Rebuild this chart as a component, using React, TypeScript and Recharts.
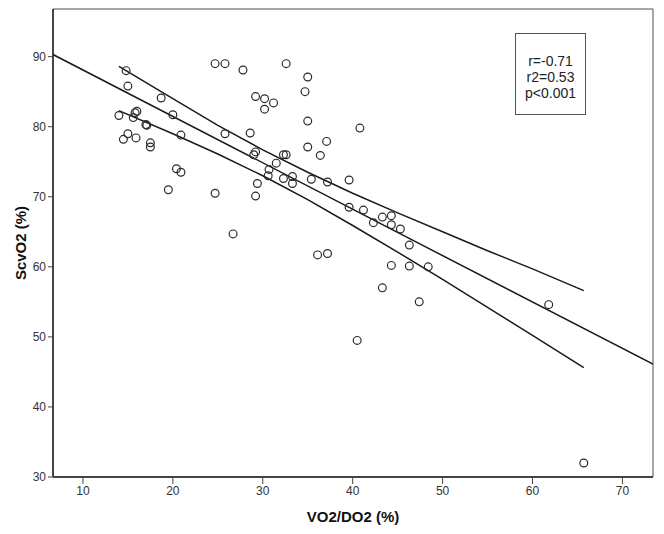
import { ScatterChart, Scatter, XAxis, YAxis, ReferenceLine, Label } from 'recharts'

// VO2/DO2 (%) vs ScvO2 (%) per patient
const vo2do2 = [
  14.8, 15.0, 18.7, 14.0, 15.6, 15.8, 16.0, 17.0, 17.1, 20.0,
  15.0, 14.5, 15.9, 17.5, 17.5, 20.9, 20.4, 20.9, 19.5, 24.7,
  26.7, 24.7, 25.8, 27.8, 32.6, 35.0, 34.7, 29.2, 30.2, 31.2,
  30.2, 35.0, 25.8, 28.6, 35.0, 37.1, 36.4, 29.0, 29.2, 32.3,
  32.6, 31.5, 30.7, 30.6, 32.3, 33.3, 33.3, 29.4, 29.2, 35.4,
  37.2, 36.1, 37.2, 40.8, 39.6, 39.6, 41.2, 42.3, 43.3, 44.3,
  44.3, 45.3, 46.3, 44.3, 46.3, 48.4, 43.3, 47.4, 40.5, 61.8,
  65.7,
]
const scvo2 = [
  88.0, 85.8, 84.1, 81.6, 81.3, 82.0, 82.2, 80.3, 80.2, 81.7,
  79.0, 78.2, 78.4, 77.7, 77.1, 78.8, 74.0, 73.5, 71.0, 70.5,
  64.7, 89.0, 89.0, 88.1, 89.0, 87.1, 85.0, 84.3, 84.0, 83.4,
  82.5, 80.8, 79.0, 79.1, 77.1, 77.9, 75.9, 76.0, 76.4, 76.0,
  76.0, 74.8, 73.9, 73.0, 72.6, 72.9, 71.9, 71.9, 70.1, 72.5,
  72.1, 61.7, 61.9, 79.8, 72.4, 68.5, 68.1, 66.3, 67.1, 67.3,
  66.0, 65.4, 63.1, 60.2, 60.1, 60.0, 57.0, 55.0, 49.5, 54.6,
  32.0,
]

// regression line end points
const fitX = [6.67, 73.4]
const fitY = [90.3, 46.1]

// 95% CI of the mean, read at a few x positions
const ciX = [14, 20, 25, 30, 35, 40, 45, 50, 55, 60, 65.7]
const ciUpper = [88.6, 84.0, 80.2, 76.7, 73.5, 70.5, 67.7, 65.0, 62.3, 59.7, 56.6]
const ciLower = [82.3, 79.0, 76.1, 73.0, 69.6, 65.9, 62.1, 58.2, 54.2, 50.2, 45.6]

const xTicks = [10, 20, 30, 40, 50, 60, 70]
const yTicks = [30, 40, 50, 60, 70, 80, 90]
const xDomain = [6.67, 73.4]
const yDomain = [30, 96.8]

const stats = ['r=-0.71', 'r2=0.53', 'p<0.001']

const points = vo2do2.map((x, i) => ({ x, y: scvo2[i] }))
const fit = fitX.map((x, i) => ({ x, y: fitY[i] }))
const upper = ciX.map((x, i) => ({ x, y: ciUpper[i] }))
const lower = ciX.map((x, i) => ({ x, y: ciLower[i] }))

const font = '"Liberation Sans", Arial, sans-serif'
const lineStyle = { stroke: '#1a1a1a', strokeWidth: 1.5 }

const Ring = (props: any) => (
  <circle cx={props.cx} cy={props.cy} r={3.9} fill="none" stroke="#2a2a2a" strokeWidth={1.2} />
)
const NoDot = () => <g />

const YLabel = ({ viewBox }: any) => {
  const cx = viewBox.x + 20
  const cy = viewBox.y + viewBox.height / 2
  return (
    <text x={cx} y={cy} transform={`rotate(-90 ${cx} ${cy})`} textAnchor="middle" dominantBaseline="central"
      style={{ fontFamily: font, fontWeight: 'bold', fontSize: 15, fill: '#111' }}>
      ScvO2 (%)
    </text>
  )
}

export default function App() {
  const tick = { fontFamily: font, fontSize: 12, fill: '#333' }
  return (
    <div style={{ position: 'absolute', left: 0, top: 0, width: 664, height: 534, background: '#fff' }}>
      <ScatterChart width={664} height={534} margin={{ top: 9, right: 11, bottom: 0, left: 0 }}>
        <XAxis type="number" dataKey="x" domain={xDomain} ticks={xTicks} allowDataOverflow height={57}
          tick={tick} tickSize={7} tickLine={{ stroke: '#444' }} axisLine={{ stroke: '#444', strokeWidth: 2 }}>
          <Label value="VO2/DO2 (%)" position="insideBottom" offset={12}
            style={{ fontFamily: font, fontWeight: 'bold', fontSize: 15, fill: '#111' }} />
        </XAxis>
        <YAxis type="number" dataKey="y" domain={yDomain} ticks={yTicks} allowDataOverflow width={53}
          tick={tick} tickSize={5} tickLine={{ stroke: '#444' }} axisLine={{ stroke: '#444', strokeWidth: 2 }}>
          <Label content={YLabel} />
        </YAxis>
        <ReferenceLine y={yDomain[1]} stroke="#888" strokeWidth={1.5} />
        <ReferenceLine x={xDomain[1]} stroke="#888" strokeWidth={1.5} />
        <Scatter data={fit} line={lineStyle} shape={NoDot} isAnimationActive={false} />
        <Scatter data={upper} line={lineStyle} shape={NoDot} isAnimationActive={false} />
        <Scatter data={lower} line={lineStyle} shape={NoDot} isAnimationActive={false} />
        <Scatter data={points} shape={Ring} isAnimationActive={false} />
      </ScatterChart>
      <div style={{
        position: 'absolute', left: 515, top: 33, width: 71, height: 82, border: '1px solid #555',
        fontFamily: font, fontSize: 14, lineHeight: '16px', color: '#222', textAlign: 'center',
        paddingTop: 19, boxSizing: 'border-box',
      }}>
        {stats.map((s) => <div key={s}>{s}</div>)}
      </div>
    </div>
  )
}
